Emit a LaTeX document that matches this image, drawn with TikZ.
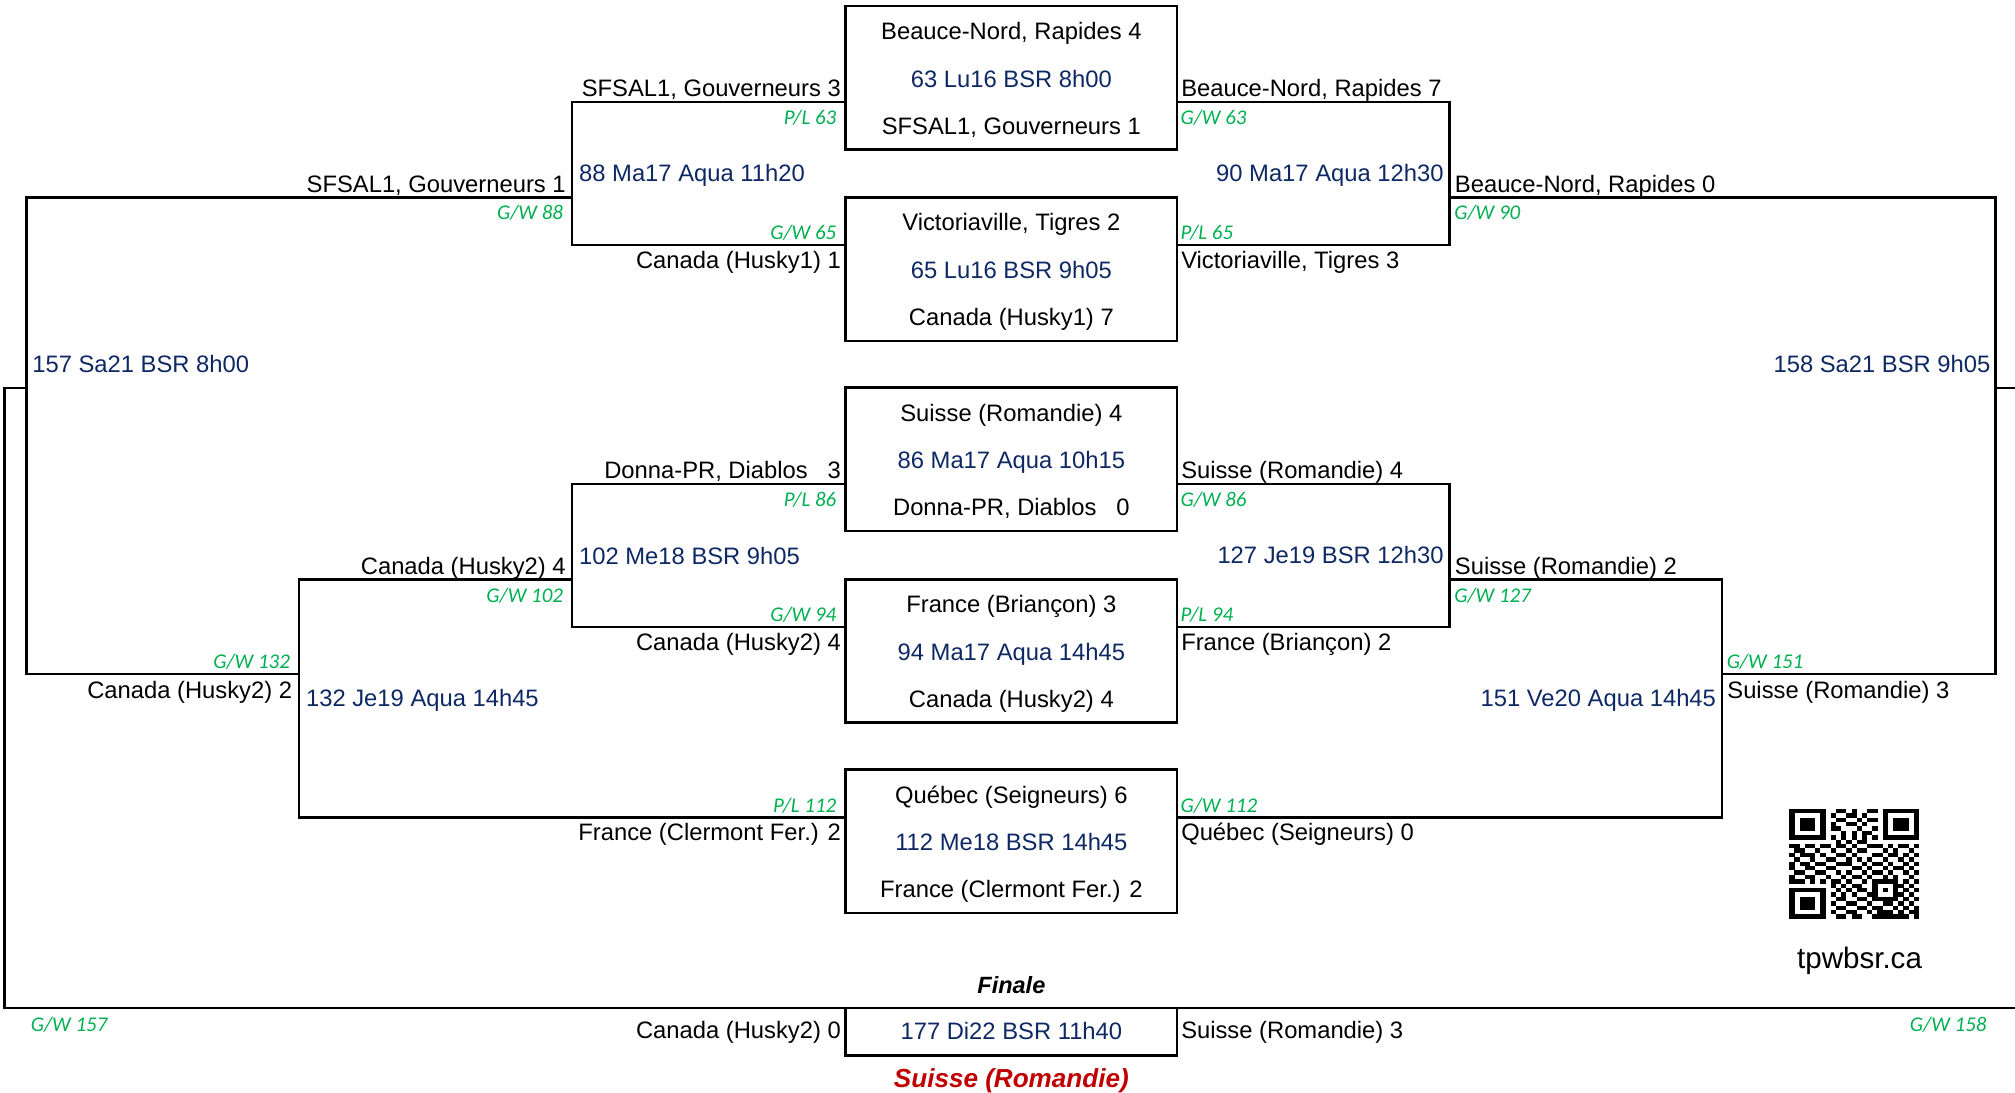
\documentclass[tikz,border=0pt]{standalone}
\usepackage{fontspec}
\setmainfont{Liberation Sans}
\newfontfamily\calib{Carlito}
\definecolor{navy}{RGB}{14,40,100}
\definecolor{gwgreen}{RGB}{0,176,80}
\definecolor{winred}{RGB}{192,0,0}
\begin{document}
\begin{tikzpicture}[x=1pt,y=-1pt,
  team/.style={inner sep=0pt, font=\fontsize{18.5}{22}\selectfont},
  tl/.style={team, anchor=base east},
  tr/.style={team, anchor=base west},
  tc/.style={team, anchor=base},
  mt/.style={team, text=navy},
  gw/.style={inner sep=0pt, text=gwgreen, font=\calib\itshape\fontsize{16.3}{19}\selectfont},
  gl/.style={gw, anchor=base east},
  gr/.style={gw, anchor=base west},
  box/.style={draw, line width=2pt, minimum width=258pt, minimum height=111.5pt, inner sep=0pt},
  wire/.style={line width=2pt}]
\useasboundingbox (0,0) rectangle (1568,850.5);

% ---------- boxes ----------
\node[box] (m63) at (787,60.4) {};
\node[box] (m65) at (787,209.5) {};
\node[box] (m86) at (787,357.5) {};
\node[box] (m94) at (787,506.5) {};
\node[box] (m112) at (787,654.7) {};

% ---------- bracket corners ----------
\coordinate (c88t) at (445,79.5);   \coordinate (c88b) at (445,190.5);
\coordinate (c90t) at (1128,79.5);  \coordinate (c90b) at (1128,190.5);
\coordinate (c102t) at (445,376.5); \coordinate (c102b) at (445,488);
\coordinate (c127t) at (1128,376.5);\coordinate (c127b) at (1128,488);
\coordinate (c132t) at (232.7,451); \coordinate (c132b) at (232.7,636);
\coordinate (c151t) at (1340,451);  \coordinate (c151b) at (1340,636);
\coordinate (c157t) at (20.5,153.5);\coordinate (c157b) at (20.5,524.5);
\coordinate (c158t) at (1553,153.5);\coordinate (c158b) at (1553,524.5);
\coordinate (fl) at (3.5,302);      \coordinate (flb) at (3.5,784.5);
\coordinate (fr) at (1568.5,302);   \coordinate (frb) at (1568.5,784.5);

% ---------- connectors ----------
\draw[wire] (m63.west |- c88t) -- (c88t) -- (c88b) -- (m65.west |- c88b);
\draw[wire] (m63.east |- c90t) -- (c90t) -- (c90b) -- (m65.east |- c90b);
\draw[wire] (m86.west |- c102t) -- (c102t) -- (c102b) -- (m94.west |- c102b);
\draw[wire] (m86.east |- c127t) -- (c127t) -- (c127b) -- (m94.east |- c127b);
\draw[wire] (c102t |- c132t) -- (c132t) -- (c132b) -- (m112.west |- c132b);
\draw[wire] (c127t |- c151t) -- (c151t) -- (c151b) -- (m112.east |- c151b);
\draw[wire] (c88t |- c157t) -- (c157t) -- (c157b) -- (c132t |- c157b);
\draw[wire] (c90t |- c158t) -- (c158t) -- (c158b) -- (c151t |- c158b);
\draw[wire] (c157t |- fl) -- (fl) -- (flb) -- (frb);
\draw[wire] (c158t |- fr) -- (fr);
\node[box, minimum height=37pt] (m177) at (787,802.8) {};

% ---------- box contents ----------
\node[tc] (t63a) at (787,30.6) {Beauce-Nord, Rapides 4};
\node[tc,mt] (t63m) at (787,68) {63 Lu16 BSR 8h00};
\node[tc] (t63b) at (787,104.5) {SFSAL1, Gouverneurs 1};
\node[tc] (t65a) at (787,179.7) {Victoriaville, Tigres 2};
\node[tc,mt] (t65m) at (787,216.9) {65 Lu16 BSR 9h05};
\node[tc] (t65b) at (787,253.5) {Canada (Husky1) 7};
\node[tc] (t86a) at (787,327.7) {Suisse (Romandie) 4};
\node[tc,mt] (t86m) at (787,364.9) {86 Ma17 Aqua 10h15};
\node[tc] (t86b) at (787,401.5) {Donna-PR, Diablos\ \ \ 0};
\node[tc] (t94a) at (787,476.7) {France (Briançon) 3};
\node[tc,mt] (t94m) at (787,513.9) {94 Ma17 Aqua 14h45};
\node[tc] (t94b) at (787,550.5) {Canada (Husky2) 4};
\node[tc] (t112a) at (787,624.9) {Québec (Seigneurs) 6};
\node[tc,mt] (t112m) at (787,662.1) {112 Me18 BSR 14h45};
\node[tc] (t112b) at (787,698.7) {France (Clermont Fer.) 2};
\node[tc,mt] (t177m) at (787,809) {177 Di22 BSR 11h40};

% ---------- left labels ----------
\node[tl] (l1) at (654.5,75.2) {SFSAL1, Gouverneurs 3};
\node[gl] (g1) at (651,96.7) {P/L 63};
\node[gl] (g2) at (651,186.2) {G/W 65};
\node[tl] (l2) at (654.5,208.7) {Canada (Husky1) 1};
\node[tl] (l3) at (440.4,149.5) {SFSAL1, Gouverneurs 1};
\node[gl] (g3) at (438.3,171) {G/W 88};
\node[tl] (l4) at (654.5,372.5) {Donna-PR, Diablos\ \ \ 3};
\node[gl] (g4) at (651,394) {P/L 86};
\node[gl] (g5) at (651,484) {G/W 94};
\node[tl] (l5) at (654.5,506) {Canada (Husky2) 4};
\node[tl] (l6) at (440.4,447) {Canada (Husky2) 4};
\node[gl] (g6) at (438.3,468.5) {G/W 102};
\node[gl] (g7) at (225.8,520.5) {G/W 132};
\node[tl] (l7) at (227.5,543.5) {Canada (Husky2) 2};
\node[gl] (g8) at (651,632) {P/L 112};
\node[tl] (l8) at (654.5,654) {France (Clermont Fer.) 2};
\node[tl] (l9) at (654.5,808.5) {Canada (Husky2) 0};
\node[gr] (g9) at (23.8,802.5) {G/W 157};

% ---------- right labels ----------
\node[tr] (r1) at (919,75.2) {Beauce-Nord, Rapides 7};
\node[gr] (h1) at (918.5,96.7) {G/W 63};
\node[gr] (h2) at (918.5,186.2) {P/L 65};
\node[tr] (r2) at (919,208.7) {Victoriaville, Tigres 3};
\node[tr] (r3) at (1132,149.5) {Beauce-Nord, Rapides 0};
\node[gr] (h3) at (1131.5,171) {G/W 90};
\node[tr] (r4) at (919,372.5) {Suisse (Romandie) 4};
\node[gr] (h4) at (918.5,394) {G/W 86};
\node[gr] (h5) at (918.5,484) {P/L 94};
\node[tr] (r5) at (919,506) {France (Briançon) 2};
\node[tr] (r6) at (1132,447) {Suisse (Romandie) 2};
\node[gr] (h6) at (1131.5,468.5) {G/W 127};
\node[gr] (h7) at (1343.5,520.5) {G/W 151};
\node[tr] (r7) at (1344,543.5) {Suisse (Romandie) 3};
\node[gr] (h8) at (918.5,632) {G/W 112};
\node[tr] (r8) at (919,654) {Québec (Seigneurs) 0};
\node[tr] (r9) at (919,808.5) {Suisse (Romandie) 3};
\node[gl] (h9) at (1546,802.5) {G/W 158};

% ---------- match labels ----------
\node[mt,anchor=base west] (n88) at (450.5,141.6) {88 Ma17 Aqua 11h20};
\node[mt,anchor=base east] (n90) at (1123.5,141.6) {90 Ma17 Aqua 12h30};
\node[mt,anchor=base west] (n102) at (450.5,439) {102 Me18 BSR 9h05};
\node[mt,anchor=base east] (n127) at (1123.5,438.5) {127 Je19 BSR 12h30};
\node[mt,anchor=base west] (n132) at (238,550) {132 Je19 Aqua 14h45};
\node[mt,anchor=base east] (n151) at (1335.5,550) {151 Ve20 Aqua 14h45};
\node[mt,anchor=base west] (n157) at (25,290) {157 Sa21 BSR 8h00};
\node[mt,anchor=base east] (n158) at (1549,290) {158 Sa21 BSR 9h05};

% ---------- finale ----------
\node[inner sep=0pt, anchor=base, font=\bfseries\itshape\fontsize{18.3}{22}\selectfont] (fin) at (787,773) {Finale};
\node[inner sep=0pt, anchor=base, text=winred, font=\bfseries\itshape\fontsize{20.3}{24}\selectfont] (win) at (787,846) {Suisse (Romandie)};

% ---------- QR code ----------
\foreach \r/\cs in {
 0/{0,1,2,3,4,5,6,9,10,12,15,16,18,19,20,21,22,23,24},
 1/{0,6,8,11,12,14,18,24},
 2/{0,2,3,4,6,9,10,13,15,16,18,20,21,22,24},
 3/{0,2,3,4,6,8,11,12,14,18,20,21,22,24},
 4/{0,2,3,4,6,8,9,13,16,18,20,21,22,24},
 5/{0,6,10,12,14,15,18,24},
 6/{0,1,2,3,4,5,6,8,10,12,14,16,18,19,20,21,22,23,24},
 7/{9,11,13,14},
 8/{0,1,3,4,6,7,9,10,12,15,16,17,19,21,22,24},
 9/{1,2,5,8,11,13,14,18,20,23},
 10/{0,2,3,4,6,9,10,12,16,17,19,20,22,24},
 11/{1,4,7,8,11,13,15,18,21,23},
 12/{0,2,3,5,6,9,10,11,14,16,17,19,22,24},
 13/{0,3,4,7,8,12,13,15,18,20,21,23},
 14/{1,2,5,6,9,11,14,16,17,19,22,24},
 15/{0,3,4,7,10,12,13,15,18,20,23},
 16/{0,1,2,4,6,8,9,11,14,16,17,18,19,20,22,24},
 17/{8,10,12,13,16,20,21,23},
 18/{0,1,2,3,4,5,6,9,11,13,14,16,18,20,22,24},
 19/{0,6,8,10,12,15,16,20,21,23},
 20/{0,2,3,4,6,9,10,13,14,16,17,18,19,20,22,24},
 21/{0,2,3,4,6,8,11,12,15,18,19,21,23},
 22/{0,2,3,4,6,9,10,13,14,16,17,20,22,24},
 23/{0,6,8,11,12,15,17,18,19,21,23,24},
 24/{0,1,2,3,4,5,6,9,10,12,13,16,17,18,19,20,21,22,24}}
{ \foreach \c in \cs { \fill (1392.3+\c*4.04, 629.4+\r*3.42) rectangle ++(4.1,3.48); } }
\node[inner sep=0pt, anchor=base, font=\fontsize{23}{27}\selectfont] (url) at (1447,753.4) {tpwbsr.ca};
\end{tikzpicture}
\end{document}
